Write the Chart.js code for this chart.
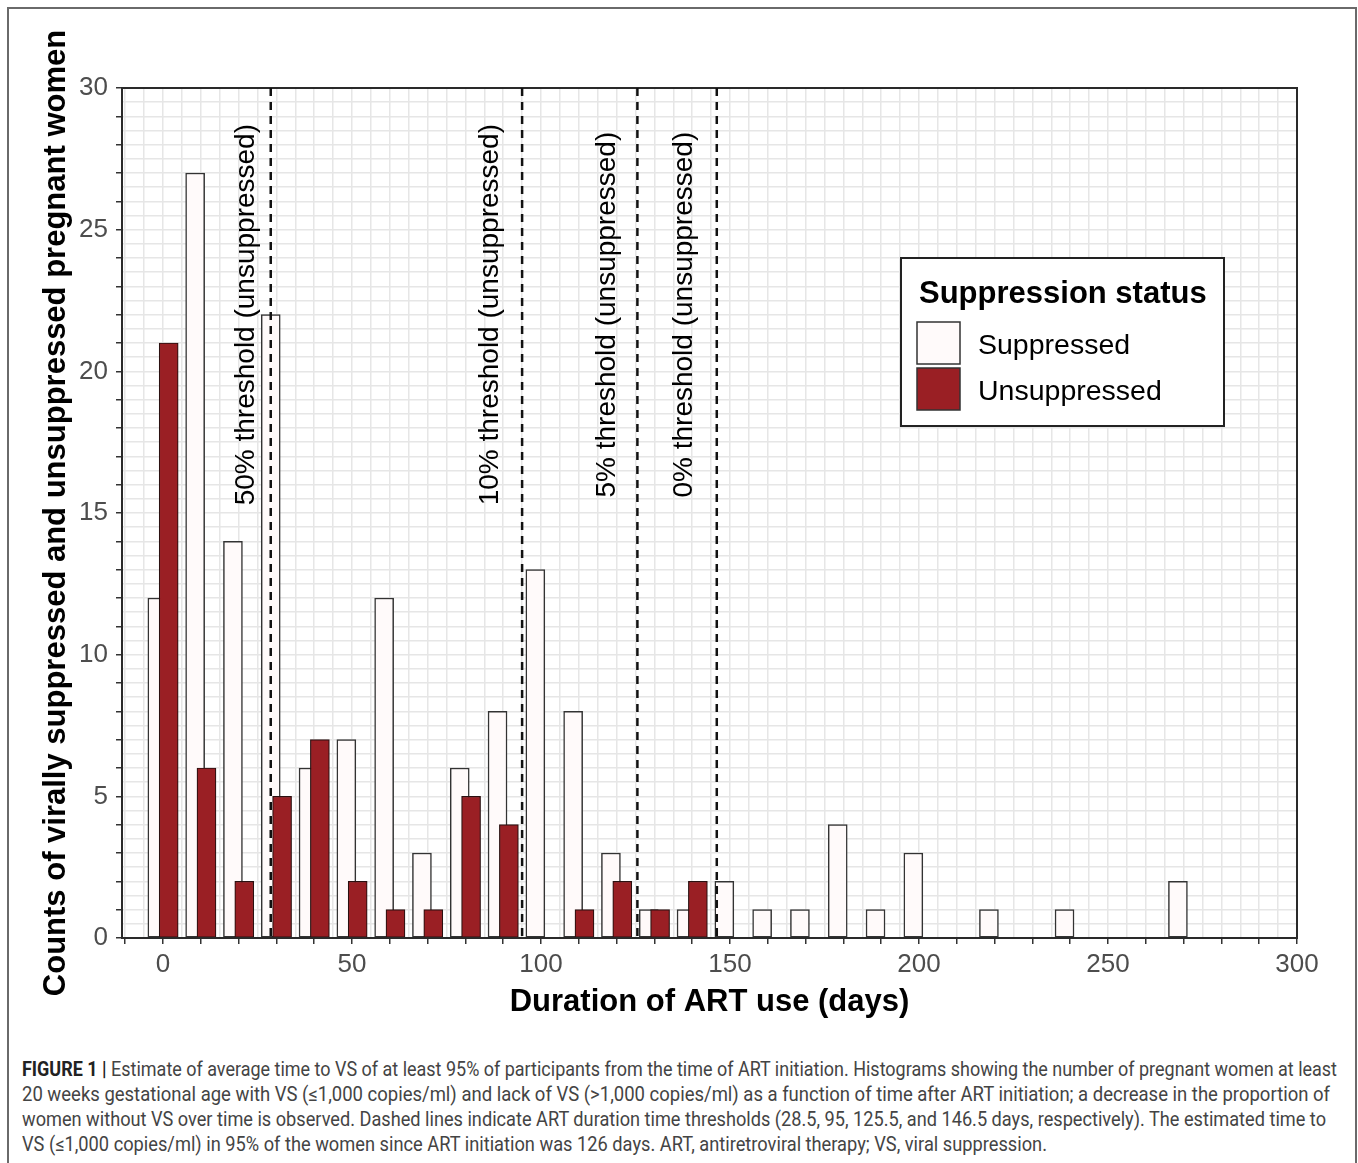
<!DOCTYPE html>
<html>
<head>
<meta charset="utf-8">
<title>Duration of ART use</title>
<script src="https://cdn.jsdelivr.net/npm/chart.js@4.4.1/dist/chart.umd.min.js"></script>
<style>
  html, body { margin: 0; padding: 0; background: #fff; }
  body { width: 1358px; height: 1163px; position: relative; overflow: hidden; }
  #chart { position: absolute; left: 0; top: 0; }
  #frame { position: absolute; left: 7px; top: 7px; width: 1350px; height: 1200px; box-sizing: border-box;
           border: 2px solid #6a6a6a; border-bottom: none; pointer-events: none; }
  #caption { position: absolute; left: 22px; top: 1057px; font-family: Roboto, "Liberation Sans", sans-serif;
             font-size: 20px; line-height: 25px; color: #444; }
  #caption div { white-space: nowrap; width: max-content; transform-origin: 0 0; }
  #caption b { color: #222; }
</style>
</head>
<body>
<canvas id="chart" width="1358" height="1040" style="width:1358px;height:1040px"></canvas>
<div id="caption">
  <div data-w="1315"><b>FIGURE 1 |</b> Estimate of average time to VS of at least 95% of participants from the time of ART initiation. Histograms showing the number of pregnant women at least</div>
  <div data-w="1308">20 weeks gestational age with VS (≤1,000 copies/ml) and lack of VS (&gt;1,000 copies/ml) as a function of time after ART initiation; a decrease in the proportion of</div>
  <div data-w="1304">women without VS over time is observed. Dashed lines indicate ART duration time thresholds (28.5, 95, 125.5, and 146.5 days, respectively). The estimated time to</div>
  <div data-w="1025">VS (≤1,000 copies/ml) in 95% of the women since ART initiation was 126 days. ART, antiretroviral therapy; VS, viral suppression.</div>
</div>
<div id="frame"></div>
<script>
// 10-day bins (days since ART initiation)
const bins = [0, 10, 20, 30, 40, 50, 60, 70, 80, 90, 100, 110, 120, 130, 140,
              150, 160, 170, 180, 190, 200, 210, 220, 230, 240, 250, 260, 270, 280, 290];
const suppressed = [12, 27, 14, 22, 6, 7, 12, 3, 6, 8, 13, 8, 3, 1, 1,
                    2, 1, 1, 4, 1, 3, 0, 1, 0, 1, 0, 0, 2, 0, 0];
const unsuppressed = [21, 6, 2, 5, 7, 2, 1, 1, 5, 4, 0, 1, 2, 1, 2,
                      0, 0, 0, 0, 0, 0, 0, 0, 0, 0, 0, 0, 0, 0, 0];
const seriesNames = ['Suppressed', 'Unsuppressed'];

// dashed thresholds and their rotated labels
const thresholds = [28.5, 95, 125.5, 146.5];
const thresholdLabels = ['50% threshold (unsuppressed)', '10% threshold (unsuppressed)',
                         '5% threshold (unsuppressed)', '0% threshold (unsuppressed)'];
const thresholdLabelX = [22, 86.5, 117.5, 138];
const thresholdLabelY = 22;

const xTickLabels = [0, 50, 100, 150, 200, 250, 300];
const yTickLabels = [0, 5, 10, 15, 20, 25, 30];

const FONT = '"Liberation Sans", Arial, sans-serif';
const DODGE = 1.5;          // half of the dodge shift, in days
const WHITE = '#fffafa';
const RED = '#9a1f24';

// dashed lines, labels, panel border and the legend box
const overlay = {
  id: 'overlay',
  afterDatasetsDraw(chart) {
    const { ctx, chartArea: a, scales: { x, y } } = chart;
    ctx.save();

    ctx.strokeStyle = '#2a2a2a';
    ctx.lineWidth = 2;
    ctx.strokeRect(a.left, a.top, a.right - a.left, a.bottom - a.top);

    ctx.strokeStyle = '#111';
    ctx.lineWidth = 2.5;
    ctx.setLineDash([8, 6]);
    thresholds.forEach(t => {
      const px = x.getPixelForValue(t);
      ctx.beginPath();
      ctx.moveTo(px, a.top);
      ctx.lineTo(px, a.bottom);
      ctx.stroke();
    });
    ctx.setLineDash([]);

    ctx.fillStyle = '#000';
    ctx.font = '28px ' + FONT;
    ctx.textAlign = 'center';
    ctx.textBaseline = 'middle';
    thresholdLabels.forEach((s, i) => {
      ctx.save();
      ctx.translate(x.getPixelForValue(thresholdLabelX[i]), y.getPixelForValue(thresholdLabelY));
      ctx.rotate(-Math.PI / 2);
      ctx.fillText(s, 0, 0);
      ctx.restore();
    });

    // legend
    const lx = a.right - 396, ly = a.top + 170;
    ctx.fillStyle = '#fff';
    ctx.fillRect(lx, ly, 323, 168);
    ctx.strokeStyle = '#222';
    ctx.lineWidth = 2;
    ctx.strokeRect(lx, ly, 323, 168);

    ctx.textAlign = 'left';
    ctx.fillStyle = '#000';
    ctx.font = 'bold 31px ' + FONT;
    ctx.fillText('Suppression status', lx + 18, ly + 36);

    ctx.font = '28.5px ' + FONT;
    chart.data.datasets.slice().sort((p, q) => seriesNames.indexOf(p.label) - seriesNames.indexOf(q.label))
      .forEach((ds, i) => {
        const sy = ly + 64 + i * 46;
        ctx.fillStyle = ds.backgroundColor;
        ctx.fillRect(lx + 16, sy, 43, 42);
        ctx.strokeStyle = '#333';
        ctx.lineWidth = 1.5;
        ctx.strokeRect(lx + 16, sy, 43, 42);
        ctx.fillStyle = '#000';
        ctx.fillText(ds.label, lx + 77, sy + 24);
      });

    ctx.restore();
  }
};

const tickMark = (step) => (c) => (c.tick && Math.abs(c.tick.value / step - Math.round(c.tick.value / step)) < 1e-6)
  ? '#333' : 'rgba(0,0,0,0)';

new Chart(document.getElementById('chart'), {
  type: 'bar',
  data: {
    datasets: [
      {
        label: seriesNames[1],
        data: bins.map((b, i) => ({ x: b + DODGE, y: unsuppressed[i] })),
        backgroundColor: RED,
        borderColor: '#2a1010',
        borderWidth: 1.2,
        borderSkipped: false,
        barThickness: 19,
        grouped: false,
        order: 1
      },
      {
        label: seriesNames[0],
        data: bins.map((b, i) => ({ x: b - DODGE, y: suppressed[i] })),
        backgroundColor: WHITE,
        borderColor: '#333',
        borderWidth: 1.5,
        borderSkipped: false,
        barThickness: 19,
        grouped: false,
        order: 2
      }
    ]
  },
  options: {
    responsive: false,
    animation: false,
    layout: { padding: { top: 88, right: 61, left: 0, bottom: 0 } },
    plugins: { legend: { display: false }, tooltip: { enabled: false } },
    scales: {
      x: {
        type: 'linear',
        min: -10.85,
        max: 300,
        offset: false,
        afterBuildTicks: s => {
          s.ticks = [];
          for (let v = -10; v <= 300; v += 5) s.ticks.push({ value: v });
        },
        afterFit: s => { s.height = 102; },
        grid: { offset: false, color: '#e6e6e6', lineWidth: 1.5, tickLength: 6, tickWidth: 1.5, tickColor: tickMark(10) },
        border: { color: '#222', width: 2 },
        ticks: {
          autoSkip: false, maxRotation: 0, padding: 5, color: '#4d4d4d',
          font: { family: FONT, size: 26 },
          callback: v => xTickLabels.includes(v) ? String(v) : ''
        },
        title: {
          display: true, text: 'Duration of ART use (days)', color: '#000',
          font: { family: FONT, size: 31, weight: 'bold' }, padding: { top: 0, bottom: 19 }
        }
      },
      y: {
        min: 0,
        max: 30,
        afterBuildTicks: s => {
          s.ticks = [];
          for (let i = 0; i <= 60; i++) s.ticks.push({ value: i / 2 });
        },
        afterFit: s => { s.width = 122; },
        grid: { color: '#e6e6e6', lineWidth: 1.5, tickLength: 6, tickWidth: 1.5, tickColor: tickMark(1) },
        border: { color: '#222', width: 2 },
        ticks: {
          autoSkip: false, padding: 8, color: '#4d4d4d',
          font: { family: FONT, size: 26 },
          callback: v => yTickLabels.includes(v) ? String(v) : ''
        },
        title: {
          display: true, text: 'Counts of virally suppressed and unsuppressed pregnant women', color: '#000',
          font: { family: FONT, size: 31, weight: 'bold' }, padding: { top: 38, bottom: 0 }
        }
      }
    }
  },
  plugins: [overlay]
});

// squeeze each caption line to the width it has in the figure
document.querySelectorAll('#caption div').forEach(el => {
  const w = el.getBoundingClientRect().width;
  el.style.transform = 'scaleX(' + (Number(el.dataset.w) / w) + ')';
});
</script>
</body>
</html>
